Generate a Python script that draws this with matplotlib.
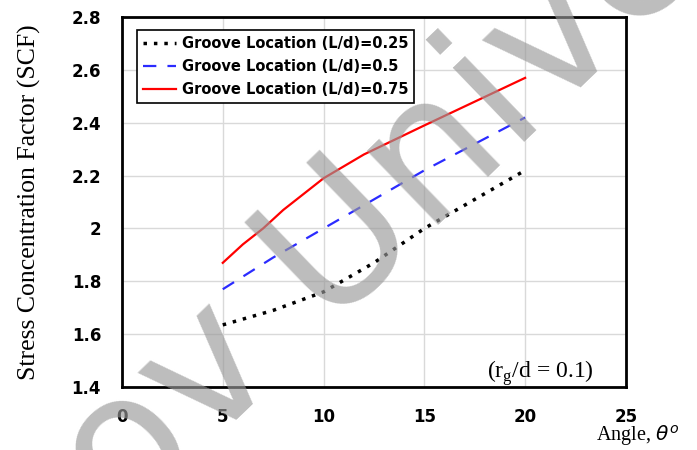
import matplotlib
matplotlib.use("Agg")
import matplotlib.pyplot as plt
import numpy as np

# angle (deg) and SCF
angle_025 = [5, 7.5, 10, 12.5, 15, 17.5, 20]
scf_025 = [1.635, 1.69, 1.76, 1.87, 2.00, 2.11, 2.22]

angle_05 = [5, 7.5, 10, 12.5, 15, 17.5, 20]
scf_05 = [1.77, 1.89, 2.00, 2.11, 2.22, 2.32, 2.42]

angle_075 = [5, 6, 7, 8, 9, 10, 12, 15, 17.5, 20]
scf_075 = [1.87, 1.94, 2.00, 2.07, 2.13, 2.19, 2.28, 2.39, 2.48, 2.57]

xticks = [0, 5, 10, 15, 20, 25]
yticks = [1.4, 1.6, 1.8, 2.0, 2.2, 2.4, 2.6, 2.8]
ytick_labels = ["1.4", "1.6", "1.8", "2", "2.2", "2.4", "2.6", "2.8"]

fig = plt.figure(figsize=(6.97, 4.5), dpi=100)
ax = fig.add_axes([0.175, 0.14, 0.723, 0.822])

ax.plot(angle_025, scf_025, color="black", linestyle=(0, (1, 2)), linewidth=2.5,
        label="Groove Location (L/d)=0.25")
ax.plot(angle_05, scf_05, color="#2b2bff", linestyle=(0, (6, 5)), linewidth=1.6,
        label="Groove Location (L/d)=0.5")
ax.plot(angle_075, scf_075, color="red", linewidth=1.6,
        label="Groove Location (L/d)=0.75")

ax.set_xlim(0, 25)
ax.set_ylim(1.4, 2.8)
ax.set_xticks(xticks)
ax.set_yticks(yticks)
ax.set_yticklabels(ytick_labels)
ax.tick_params(length=0, pad=15, labelsize=12)
for lab in ax.get_xticklabels() + ax.get_yticklabels():
    lab.set_fontweight("bold")
ax.grid(True, color="#d9d9d9", linewidth=1)
for s in ax.spines.values():
    s.set_linewidth(2)

ax.set_ylabel("Stress Concentration Factor (SCF)", family="Liberation Serif",
              fontsize=18.5, labelpad=22)
fig.text(0.855, 0.02, r"Angle, $\theta^o$", family="Liberation Serif",
         fontsize=14.5, va="baseline")
ax.text(0.937, 0.025, r"(r$_\mathregular{g}$/d = 0.1)", transform=ax.transAxes,
        family="Liberation Serif", fontsize=17, ha="right", va="baseline")

leg = ax.legend(loc="upper left", bbox_to_anchor=(0.03, 0.965), borderaxespad=0,
                fancybox=False, edgecolor="black", framealpha=1, borderpad=0.4,
                handlelength=2.3, handletextpad=0.35, labelspacing=0.55,
                prop={"weight": "bold", "size": 10.5})
leg.get_frame().set_linewidth(1.2)

# watermark
fig.text(0.176, -0.178, "ov Unive", fontsize=135, color="#999999", alpha=0.65,
         rotation=44, rotation_mode="anchor", ha="left", va="baseline", zorder=10)

fig.savefig("out.png", dpi=100)
